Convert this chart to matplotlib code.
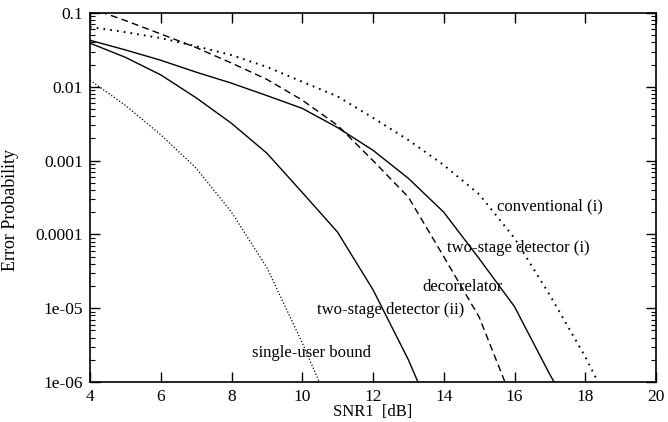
import numpy as np
import matplotlib
matplotlib.use("Agg")
import matplotlib.pyplot as plt
from matplotlib.ticker import LogLocator, NullFormatter, FixedLocator

plt.rcParams['font.family'] = ['Liberation Serif', 'DejaVu Serif']

# SNR in dB and error probabilities
snr_conv = [4, 5, 6, 7, 8, 9, 10, 11, 12, 13, 14, 15, 16, 17, 18, 18.36]
pe_conv = [0.0646, 0.055, 0.0457, 0.0355, 0.0269, 0.0186, 0.0117, 0.0074,
           0.0038, 0.0019, 8.7e-4, 3.5e-4, 8.9e-5, 1.5e-5, 2.2e-6, 1e-6]

snr_two1 = [4, 5, 6, 7, 8, 9, 10, 11, 12, 13, 14, 15, 16, 17, 17.12]
pe_two1 = [0.0427, 0.0316, 0.0229, 0.0158, 0.0112, 0.0076, 0.0051, 0.0028,
           0.00138, 5.75e-4, 2.0e-4, 4.7e-5, 1.05e-5, 1.26e-6, 1e-6]

snr_decor = [4, 5, 6, 7, 8, 9, 10, 11, 12, 13, 14, 15, 15.73]
pe_decor = [0.117, 0.079, 0.052, 0.034, 0.021, 0.0126, 0.0066, 0.0030,
            0.0010, 3.2e-4, 5.0e-5, 7.6e-6, 1e-6]

snr_two2 = [4, 5, 6, 7, 8, 9, 10, 11, 12, 13, 13.27]
pe_two2 = [0.039, 0.0251, 0.0145, 0.0071, 0.0032, 0.00126, 3.7e-4, 1.07e-4,
           1.78e-5, 2.0e-6, 1e-6]

snr_single = [4, 5, 6, 7, 7.72, 8, 9, 10, 10.48]
pe_single = [0.0123, 0.0056, 0.00224, 7.9e-4, 2.95e-4, 2.0e-4, 3.55e-5, 3.4e-6, 1e-6]

xticks = [4, 6, 8, 10, 12, 14, 16, 18, 20]
yticks = [1e-6, 1e-5, 1e-4, 1e-3, 1e-2, 1e-1]
ytick_labels = ['1e-06', '1e-05', '0.0001', '0.001', '0.01', '0.1']

fig = plt.figure(figsize=(6.68, 4.22), dpi=100)
ax = fig.add_axes([90 / 668, 1 - 382 / 422, 566 / 668, 369 / 422])

ax.plot(snr_conv, pe_conv, color='black', lw=1.4, dashes=(0.9, 2.6))
ax.plot(snr_two1, pe_two1, color='black', lw=1.0)
ax.plot(snr_decor, pe_decor, color='black', lw=1.0, dashes=(5, 3))
ax.plot(snr_two2, pe_two2, color='black', lw=1.0)
ax.plot(snr_single, pe_single, color='black', lw=0.9, dashes=(1, 1.6))

ax.set_yscale('log')
ax.set_xlim(4, 20)
ax.set_ylim(1e-6, 0.1)
ax.xaxis.set_major_locator(FixedLocator(xticks))
ax.set_yticks(yticks)
ax.set_yticklabels(ytick_labels)
ax.yaxis.set_minor_locator(LogLocator(base=10, subs=np.arange(2, 10)))
ax.yaxis.set_minor_formatter(NullFormatter())

ax.tick_params(which='major', direction='in', length=7, width=1.0,
               top=True, right=True, labelsize=12.5, pad=5)
ax.tick_params(which='minor', direction='in', length=3.5, width=0.8,
               right=True)
for s in ax.spines.values():
    s.set_linewidth(1.2)

ax.set_xlabel('SNR1  [dB]', fontsize=12, labelpad=-1)
ax.set_ylabel('Error Probability', fontsize=13)
ax.yaxis.set_label_coords(-0.125, 0.465)

lab = dict(fontsize=12, ha='left', va='center')
ax.text(15.5, 10 ** -3.615, 'conventional (i)', **lab)
ax.text(14.09, 10 ** -4.18, 'two-stage detector (i)', **lab)
ax.text(13.39, 10 ** -4.71, 'decorrelator', **lab)
ax.text(10.42, 10 ** -5.02, 'two-stage detector (ii)', **lab)
ax.text(8.58, 10 ** -5.61, 'single-user bound', **lab)

fig.savefig('out.png', dpi=100)
